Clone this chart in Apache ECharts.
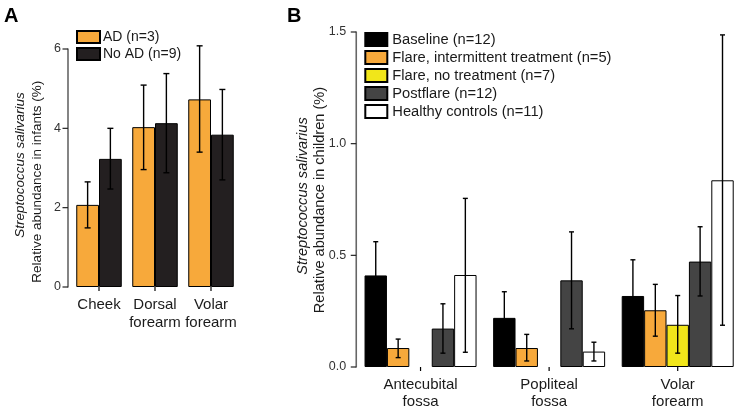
<!DOCTYPE html>
<html><head><meta charset="utf-8">
<script src="https://cdn.jsdelivr.net/npm/echarts@6/dist/echarts.min.js"></script>
<style>html,body{margin:0;padding:0;background:#fff}#c{width:742px;height:410px}</style>
</head><body><div id="c"></div>
<script>
// Panel A data
const catsA = ['Cheek', 'Dorsal\nforearm', 'Volar\nforearm'];
const namesA = ['AD (n=3)', 'No AD (n=9)'];
const adVal = [2.07, 4.03, 4.73];
const adLo = [1.49, 2.96, 3.40];
const adHi = [2.65, 5.09, 6.08];
const noadVal = [3.23, 4.13, 3.84];
const noadLo = [2.47, 2.88, 2.70];
const noadHi = [4.00, 5.38, 4.98];
const ticksA = [0, 2, 4, 6];

// Panel B data
const catsB = ['Antecubital\nfossa', 'Popliteal\nfossa', 'Volar\nforearm'];
const namesB = ['Baseline (n=12)', 'Flare, intermittent treatment (n=5)', 'Flare, no treatment (n=7)', 'Postflare (n=12)', 'Healthy controls (n=11)'];
const baseVal = [0.41, 0.22, 0.318];
const baseLo = [0.26, 0.10, 0.156];
const baseHi = [0.561, 0.337, 0.48];
const flareIntVal = [0.085, 0.085, 0.254];
const flareIntLo = [0.042, 0.027, 0.138];
const flareIntHi = [0.125, 0.146, 0.37];
const flareNoVal = [null, null, 0.189];
const flareNoLo = [null, null, 0.062];
const flareNoHi = [null, null, 0.32];
const postVal = [0.172, 0.388, 0.472];
const postLo = [0.062, 0.171, 0.318];
const postHi = [0.283, 0.605, 0.628];
const healthyVal = [0.412, 0.069, 0.836];
const healthyLo = [0.066, 0.027, 0.187];
const healthyHi = [0.755, 0.111, 1.487];
const ticksB = [0, 0.5, 1.0, 1.5];

const FONT = '"Liberation Sans", Arial, Helvetica, sans-serif';
const colorsA = ['#F7A93B', '#231F20'];
const colorsB = ['#000000', '#F7A93B', '#F1E61A', '#444444', '#FFFFFF'];

const chart = echarts.init(document.getElementById('c'), null, {renderer: 'canvas'});

function errSeries(xi, yi, lo, hi, k, n, gapFrac, capW, z) {
  const data = lo.map((l, i) => [i, l, hi[i]]).filter(d => d[1] != null);
  return {
    type: 'custom', xAxisIndex: xi, yAxisIndex: yi, z: z, silent: true,
    data: data,
    encode: {x: 0, y: [1, 2]},
    renderItem: function (params, api) {
      const idx = api.value(0);
      const band = api.size([1, 0])[0];
      const bw = band * (1 - gapFrac) / n;
      const cx = api.coord([idx, 0])[0] + (k - (n - 1) / 2) * bw;
      const pLo = api.coord([idx, api.value(1)]);
      const pHi = api.coord([idx, api.value(2)]);
      const st = {stroke: '#000', lineWidth: 1.4};
      return {type: 'group', children: [
        {type: 'line', shape: {x1: cx, y1: pLo[1], x2: cx, y2: pHi[1]}, style: st},
        {type: 'line', shape: {x1: cx - capW / 2, y1: pLo[1], x2: cx + capW / 2, y2: pLo[1]}, style: st},
        {type: 'line', shape: {x1: cx - capW / 2, y1: pHi[1], x2: cx + capW / 2, y2: pHi[1]}, style: st}
      ]};
    }
  };
}

const gapA = 0.1875, gapB = 0.129;
const valsA = [adVal, noadVal], losA = [adLo, noadLo], hisA = [adHi, noadHi];
const valsB = [baseVal, flareIntVal, flareNoVal, postVal, healthyVal];
const losB = [baseLo, flareIntLo, flareNoLo, postLo, healthyLo];
const hisB = [baseHi, flareIntHi, flareNoHi, postHi, healthyHi];

const series = [];
namesA.forEach((nm, k) => {
  series.push({type: 'bar', name: nm, xAxisIndex: 0, yAxisIndex: 0, data: valsA[k],
    barGap: '0%', barCategoryGap: (gapA * 100) + '%',
    itemStyle: {color: colorsA[k], borderColor: '#000', borderWidth: 1}, z: 2});
});
namesA.forEach((nm, k) => series.push(errSeries(0, 0, losA[k], hisA[k], k, 2, gapA, 6, 5)));
namesB.forEach((nm, k) => {
  series.push({type: 'bar', name: nm, xAxisIndex: 1, yAxisIndex: 1, data: valsB[k],
    barGap: '0%', barCategoryGap: (gapB * 100) + '%',
    itemStyle: {color: colorsB[k], borderColor: '#000', borderWidth: 1}, z: 2});
});
namesB.forEach((nm, k) => series.push(errSeries(1, 1, losB[k], hisB[k], k, 5, gapB, 5, 5)));

function xAxisFor(grid, cats, lh) {
  return {
    type: 'category', gridIndex: grid, data: cats,
    axisLine: {show: false},
    axisTick: {show: false},
    axisLabel: {fontFamily: FONT, fontSize: 15, color: '#1a1a1a', lineHeight: lh, margin: 9, interval: 0},
    splitLine: {show: false}
  };
}
function yAxisFor(grid, ticks, interval, fmt) {
  return {
    type: 'value', gridIndex: grid, min: ticks[0], max: ticks[ticks.length - 1], interval: interval,
    axisLine: {show: false},
    axisTick: {show: false},
    axisLabel: {fontFamily: FONT, fontSize: 12.5, color: '#333', margin: 10, formatter: fmt},
    splitLine: {show: false}
  };
}

const baseGraphics = [
  {type: 'text', left: 4, top: 6, style: {text: 'A', font: 'bold 20px ' + FONT, fill: '#000'}},
  {type: 'text', left: 287, top: 6, style: {text: 'B', font: 'bold 20px ' + FONT, fill: '#000'}},
  {type: 'text', x: 20, y: 165, rotation: Math.PI / 2,
    style: {text: 'Streptococcus salivarius', font: 'italic 13.5px ' + FONT, fill: '#1a1a1a', textAlign: 'center', textVerticalAlign: 'middle'}},
  {type: 'text', x: 37.7, y: 181.7, rotation: Math.PI / 2,
    style: {text: 'Relative abundance in infants (%)', font: '13.5px ' + FONT, fill: '#1a1a1a', textAlign: 'center', textVerticalAlign: 'middle'}},
  {type: 'text', x: 303.3, y: 196, rotation: Math.PI / 2,
    style: {text: 'Streptococcus salivarius', font: 'italic 14.6px ' + FONT, fill: '#1a1a1a', textAlign: 'center', textVerticalAlign: 'middle'}},
  {type: 'text', x: 320, y: 200, rotation: Math.PI / 2,
    style: {text: 'Relative abundance in children (%)', font: '14.6px ' + FONT, fill: '#1a1a1a', textAlign: 'center', textVerticalAlign: 'middle'}}
];

const option = {
  backgroundColor: '#fff',
  animation: false,
  grid: [
    {left: 71, top: 49, width: 168, height: 238},
    {left: 356.25, top: 32, width: 391.5, height: 336.7}
  ],
  xAxis: [xAxisFor(0, catsA, 18), xAxisFor(1, catsB, 17)],
  yAxis: [
    yAxisFor(0, ticksA, 2, v => String(v)),
    yAxisFor(1, ticksB, 0.5, v => v.toFixed(1))
  ],
  legend: [
    {data: namesA, orient: 'vertical', left: 71, top: 25, itemWidth: 23, itemHeight: 12, itemGap: 3,
      icon: 'rect', selectedMode: false,
      textStyle: {fontFamily: FONT, fontSize: 14, color: '#1a1a1a', lineHeight: 14, padding: [0, 0, 0, -2]}},
    {data: namesB, orient: 'vertical', left: 359.3, top: 27, itemWidth: 22, itemHeight: 13, itemGap: 3,
      icon: 'rect', selectedMode: false,
      textStyle: {fontFamily: FONT, fontSize: 14.7, color: '#1a1a1a', lineHeight: 15, padding: [0, 0, 0, 0]}}
  ],
  graphic: baseGraphics,
  series: series
};
chart.setOption(option);

// Axis lines and ticks, positioned from the library's own scales (drawn as thin rects on a top layer)
function axisGraphics(ai, ticks, cats, yOffset) {
  const out = [];
  const c0 = Number(chart.convertToPixel({xAxisIndex: ai}, 0));
  const c1 = Number(chart.convertToPixel({xAxisIndex: ai}, 1));
  const band = c1 - c0;
  const axisX = c0 - band / 2 - yOffset;
  const yMin = Number(chart.convertToPixel({yAxisIndex: ai}, ticks[0]));
  const yMax = Number(chart.convertToPixel({yAxisIndex: ai}, ticks[ticks.length - 1]));
  out.push({type: 'rect', zlevel: 1, z: 100, silent: true,
    shape: {x: axisX - 0.8, y: yMax - 0.6, width: 1.6, height: yMin - yMax + 1.2},
    style: {fill: '#666'}});
  ticks.forEach(t => {
    const y = Number(chart.convertToPixel({yAxisIndex: ai}, t));
    out.push({type: 'rect', zlevel: 1, z: 100, silent: true,
      shape: {x: axisX - 5.5, y: y - 0.6, width: 5.5, height: 1.2},
      style: {fill: '#222'}});
  });
  cats.forEach((c, i) => {
    const x = Number(chart.convertToPixel({xAxisIndex: ai}, i));
    out.push({type: 'rect', zlevel: 1, z: 100, silent: true,
      shape: {x: x - 0.6, y: yMin, width: 1.2, height: 4},
      style: {fill: '#000'}});
  });
  return out;
}
const extra = axisGraphics(0, ticksA, catsA, 3).concat(axisGraphics(1, ticksB, catsB, 0));
chart.setOption({graphic: baseGraphics.concat(extra)});
</script>
</body></html>
